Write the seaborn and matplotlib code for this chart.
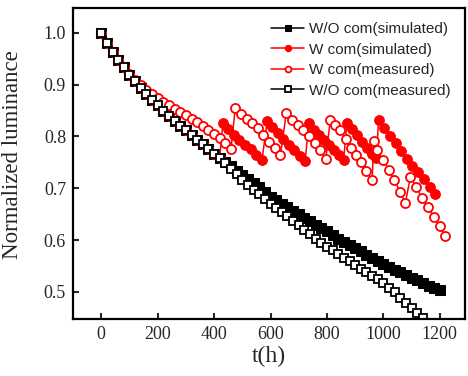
import matplotlib
matplotlib.use('Agg')
import matplotlib.pyplot as plt
import seaborn as sns

# W/O compensation, simulated (black filled squares)
t_wo_sim = [0, 20, 40, 60, 80, 100, 120, 140, 160, 180, 200, 220, 240, 260, 280, 300,
            320, 340, 360, 380, 400, 420, 440, 460, 480, 500, 520, 540, 560, 580, 600,
            620, 640, 660, 680, 700, 720, 740, 760, 780, 800, 820, 840, 860, 880, 900,
            920, 940, 960, 980, 1000, 1020, 1040, 1060, 1080, 1100, 1120, 1140, 1160, 1180, 1200]
v_wo_sim = [1.000, 0.981, 0.963, 0.948, 0.933, 0.919, 0.906, 0.894, 0.882, 0.871, 0.860,
            0.850, 0.840, 0.830, 0.821, 0.812, 0.803, 0.794, 0.785, 0.776, 0.767, 0.759,
            0.750, 0.742, 0.734, 0.726, 0.718, 0.710, 0.702, 0.693, 0.684, 0.677, 0.670,
            0.663, 0.657, 0.650, 0.643, 0.637, 0.630, 0.623, 0.617, 0.610, 0.603, 0.597,
            0.590, 0.584, 0.578, 0.572, 0.566, 0.560, 0.554, 0.549, 0.543, 0.538, 0.532,
            0.527, 0.522, 0.517, 0.512, 0.508, 0.503]

# W compensation, simulated (red filled circles)
t_w_sim = [0, 20, 40, 60, 80, 100, 120, 140, 160, 180, 200, 220, 240, 260, 280, 300,
           320, 340, 360, 380, 400, 420,
           431, 450, 469, 490, 510, 530, 550, 570,
           588, 605, 625, 645, 665, 685, 705, 723,
           735, 753, 771, 789, 806, 824, 841, 859,
           871, 889, 907, 925, 943, 961, 975,
           983, 1001, 1023, 1043, 1064, 1084, 1101, 1122, 1143, 1164, 1184]
v_w_sim = [1.000, 0.981, 0.963, 0.948, 0.933, 0.919, 0.906, 0.894, 0.882, 0.871, 0.860,
           0.850, 0.840, 0.830, 0.821, 0.812, 0.803, 0.794, 0.785, 0.776, 0.767, 0.759,
           0.826, 0.814, 0.803, 0.793, 0.784, 0.776, 0.765, 0.755,
           0.829, 0.818, 0.806, 0.795, 0.784, 0.773, 0.762, 0.752,
           0.826, 0.813, 0.803, 0.793, 0.784, 0.774, 0.764, 0.755,
           0.826, 0.814, 0.802, 0.790, 0.778, 0.767, 0.758,
           0.831, 0.816, 0.801, 0.787, 0.771, 0.756, 0.743, 0.732, 0.717, 0.703, 0.689]

# W compensation, measured (red open circles)
t_w_meas = [0, 20, 40, 60, 80, 100, 120, 140, 160, 180, 200, 220, 240, 260, 280, 300,
            320, 340, 360, 380, 400, 420, 440, 460,
            475, 495, 515, 535, 555, 575, 595, 615, 635,
            656, 676, 696, 716, 736, 756, 776, 796,
            812, 830, 848, 866, 884, 902, 920, 940, 960,
            966, 978, 999, 1019, 1039, 1060, 1078,
            1096, 1117, 1137, 1157, 1179, 1199, 1220]
v_w_meas = [1.000, 0.981, 0.963, 0.948, 0.933, 0.920, 0.909, 0.899, 0.890, 0.882, 0.874,
            0.867, 0.860, 0.853, 0.847, 0.841, 0.834, 0.828, 0.821, 0.813, 0.805, 0.796,
            0.787, 0.775,
            0.855, 0.843, 0.833, 0.826, 0.817, 0.803, 0.789, 0.778, 0.764,
            0.845, 0.832, 0.822, 0.812, 0.800, 0.787, 0.773, 0.757,
            0.832, 0.822, 0.812, 0.795, 0.778, 0.764, 0.750, 0.733, 0.715,
            0.792, 0.774, 0.755, 0.736, 0.716, 0.692, 0.672,
            0.722, 0.702, 0.681, 0.664, 0.645, 0.627, 0.607]

# W/O compensation, measured (black open squares)
t_wo_meas = [0, 20, 40, 60, 80, 100, 120, 140, 160, 180, 200, 220, 240, 260, 280, 300,
             320, 340, 360, 380, 400, 420, 440, 460, 480, 500, 520, 540, 560, 580, 600,
             620, 640, 660, 680, 700, 720, 740, 760, 780, 800, 820, 840, 860, 880, 900,
             920, 940, 960, 980, 1000, 1020, 1040, 1060, 1080, 1100, 1120, 1140, 1160]
v_wo_meas = [1.000, 0.981, 0.963, 0.948, 0.933, 0.919, 0.906, 0.894, 0.882, 0.871, 0.860,
             0.850, 0.840, 0.830, 0.821, 0.812, 0.803, 0.794, 0.785, 0.776, 0.767, 0.758,
             0.748, 0.738, 0.727, 0.716, 0.706, 0.697, 0.688, 0.679, 0.670, 0.662, 0.654,
             0.646, 0.637, 0.629, 0.620, 0.612, 0.603, 0.595, 0.587, 0.580, 0.573, 0.566,
             0.559, 0.552, 0.545, 0.538, 0.531, 0.524, 0.517, 0.508, 0.499, 0.489, 0.479,
             0.469, 0.459, 0.450, 0.440]

sns.set_style('ticks')
plt.rcParams['font.family'] = ['Liberation Serif', 'DejaVu Serif']
plt.rcParams['xtick.direction'] = 'in'
plt.rcParams['ytick.direction'] = 'in'

fig = plt.figure(figsize=(4.68, 3.76), dpi=100)
ax = fig.add_axes([0.156, 0.152, 0.838, 0.827])

common = dict(ax=ax, sort=False, estimator=None, linewidth=1.1)
sns.lineplot(x=t_wo_sim, y=v_wo_sim, color='black', marker='s', markersize=6.5,
             markeredgecolor='black', markerfacecolor='black',
             label='W/O com(simulated)', **common)
sns.lineplot(x=t_w_sim, y=v_w_sim, color='red', marker='o', markersize=7,
             markeredgecolor='red', markerfacecolor='red',
             label='W com(simulated)', **common)
sns.lineplot(x=t_w_meas, y=v_w_meas, color='red', marker='o', markersize=6.5,
             markeredgecolor='red', markerfacecolor='white', markeredgewidth=1.3,
             label='W com(measured)', **common)
sns.lineplot(x=t_wo_meas, y=v_wo_meas, color='black', marker='s', markersize=6,
             markeredgecolor='black', markerfacecolor='white', markeredgewidth=1.3,
             label='W/O com(measured)', **common)

ax.set_xlim(-100, 1290)
ax.set_ylim(0.448, 1.048)
ax.set_xticks([0, 200, 400, 600, 800, 1000, 1200])
ax.set_yticks([0.5, 0.6, 0.7, 0.8, 0.9, 1.0])
ax.set_yticklabels(['0.5', '0.6', '0.7', '0.8', '0.9', '1.0'])
ax.tick_params(labelsize=13, length=4, width=1.5, pad=5)
for s in ax.spines.values():
    s.set_linewidth(1.6)
    s.set_color('black')

ax.set_xlabel('t(h)', fontsize=17, labelpad=2)
ax.set_ylabel('Normalized luminance', fontsize=16.5)
ax.yaxis.set_label_coords(-0.128, 0.527)

leg = ax.legend(loc='upper right', frameon=False, handlelength=2.2, handletextpad=0.3,
                labelspacing=0.42, markerscale=0.65, borderaxespad=0.55,
                prop={'family': 'Liberation Sans', 'size': 11})

fig.savefig('out.png', dpi=100)
